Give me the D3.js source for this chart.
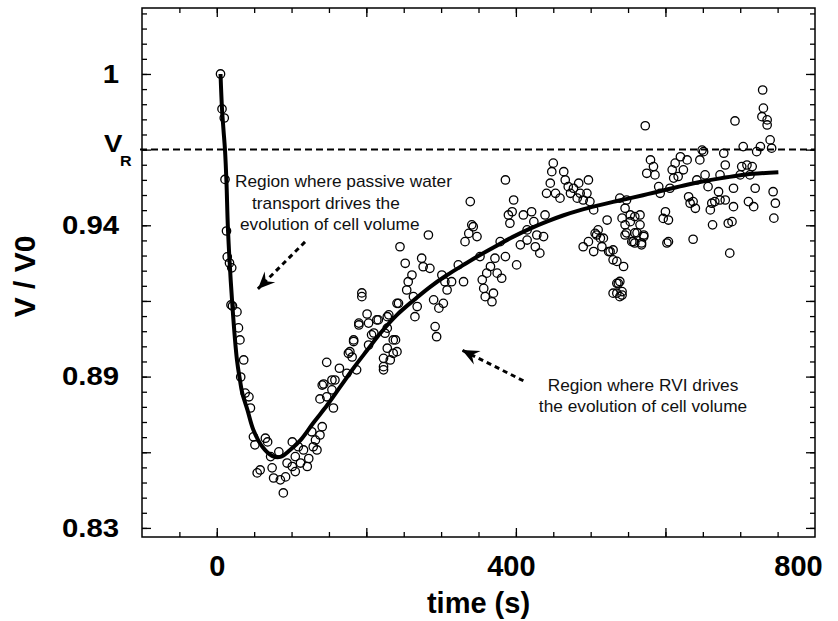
<!DOCTYPE html>
<html>
<head>
<meta charset="utf-8">
<script src="https://cdn.jsdelivr.net/npm/d3@7"></script>
<style>
body { margin: 0; background: #fff; }
svg { display: block; font-family: "Liberation Sans", Arial, sans-serif; }
</style>
</head>
<body>
<svg id="chart"></svg>
<script>
// measured points: [time (s), V/V0]
var obsPoints = [
  [5,1.0000],[7,0.9869],[10,0.9835],[11,0.9605],[13,0.9412],[14,0.9315],[17,0.9292],[20,0.9274],[19,0.9135],[21,0.9131],
  [27,0.9109],[29,0.9049],[31,0.9004],[36,0.8929],[32,0.8865],[38,0.8805],[43,0.8791],[45,0.8749],[49,0.8641],[51,0.8611],
  [65,0.8636],[68,0.8622],[58,0.8517],[54,0.8506],[72,0.8567],[83,0.8585],[74,0.8525],[76,0.8487],[85,0.8480],[94,0.8543],
  [92,0.8491],[89,0.8431],[101,0.8530],[105,0.8567],[105,0.8511],[112,0.8543],[121,0.8530],[116,0.8592],[123,0.8560],[129,0.8604],
  [132,0.8629],[134,0.8592],[141,0.8679],[127,0.8660],[138,0.8648],[109,0.8604],[101,0.8622],[147,0.8920],[143,0.8839],[138,0.8783],
  [154,0.8817],[156,0.8749],[158,0.8854],[164,0.8898],[174,0.8879],[176,0.8954],[183,0.9004],[181,0.8940],[190,0.9060],[194,0.9166],
  [194,0.9180],[201,0.9101],[207,0.9023],[214,0.9079],[190,0.9067],[216,0.9079],[230,0.9098],[241,0.9141],[203,0.9067],[210,0.9030],
  [228,0.9048],[236,0.9004],[183,0.8998],[178,0.8960],[187,0.8892],[154,0.8854],[141,0.8835],[147,0.8791],[223,0.8935],[232,0.8929],
  [241,0.8960],[223,0.8892],[228,0.8973],[203,0.8985],[223,0.8904],[236,0.8954],[225,0.9029],[239,0.9004],[228,0.9091],[243,0.9141],
  [245,0.9353],[252,0.9291],[256,0.9222],[261,0.9247],[254,0.9191],[263,0.9166],[268,0.9129],[265,0.9091],[274,0.9310],[276,0.9278],
  [285,0.9272],[283,0.9397],[290,0.9154],[297,0.9123],[303,0.9141],[308,0.9191],[305,0.9222],[301,0.9247],[292,0.9054],[294,0.9016],
  [314,0.9222],[323,0.9285],[330,0.9222],[332,0.9372],[337,0.9403],[341,0.9435],[348,0.9391],[339,0.9522],[343,0.9428],[352,0.9316],
  [355,0.9229],[357,0.9197],[361,0.9254],[366,0.9279],[372,0.9310],[359,0.9166],[368,0.9147],[370,0.9179],[375,0.9254],[381,0.9235],
  [386,0.9316],[379,0.9372],[386,0.9603],[392,0.9441],[395,0.9484],[397,0.9528],[390,0.9472],[401,0.9285],[406,0.9360],[410,0.9472],
  [415,0.9378],[421,0.9484],[424,0.9447],[415,0.9416],[428,0.9397],[426,0.9353],[432,0.9329],[437,0.9391],[439,0.9472],[441,0.9553],
  [446,0.9591],[448,0.9634],[450,0.9666],[453,0.9553],[459,0.9535],[464,0.9634],[466,0.9603],[470,0.9578],[473,0.9553],[477,0.9572],
  [482,0.9535],[486,0.9553],[484,0.9591],[490,0.9528],[495,0.9553],[497,0.9603],[499,0.9522],[504,0.9491],[490,0.9353],[497,0.9372],
  [504,0.9335],[506,0.9403],[510,0.9416],[513,0.9385],[515,0.9353],[522,0.9453],[526,0.9335],[530,0.9304],[535,0.9216],[535,0.9179],
  [539,0.9166],[544,0.9279],[542,0.9460],[546,0.9397],[548,0.9528],[508,0.9397],[517,0.9385],[524,0.9335],[530,0.9341],[535,0.9298],
  [537,0.9216],[530,0.9179],[542,0.9185],[548,0.9405],[546,0.9435],[562,0.9405],[555,0.9372],[568,0.9367],[566,0.9435],[571,0.9391],
  [559,0.9367],[602,0.9367],[553,0.9447],[573,0.9806],[580,0.9678],[575,0.9628],[586,0.9622],[584,0.9653],[591,0.9578],[593,0.9553],
  [609,0.9641],[613,0.9666],[620,0.9690],[629,0.9678],[624,0.9641],[617,0.9616],[611,0.9610],[606,0.9572],[642,0.9603],[646,0.9678],
  [651,0.9709],[653,0.9622],[657,0.9578],[631,0.9540],[633,0.9516],[640,0.9497],[637,0.9522],[600,0.9484],[597,0.9459],[604,0.9453],
  [604,0.9372],[637,0.9381],[539,0.9535],[546,0.9497],[553,0.9472],[559,0.9466],[566,0.9472],[559,0.9405],[571,0.9397],[557,0.9372],
  [568,0.9360],[539,0.9223],[542,0.9172],[662,0.9516],[666,0.9522],[673,0.9528],[680,0.9528],[660,0.9491],[671,0.9559],[663,0.9435],
  [684,0.9441],[689,0.9447],[691,0.9503],[686,0.9329],[673,0.9622],[680,0.9659],[678,0.9703],[691,0.9572],[693,0.9824],[702,0.9653],
  [700,0.9622],[709,0.9659],[716,0.9653],[713,0.9622],[711,0.9522],[718,0.9503],[720,0.9572],[722,0.9709],[704,0.9728],[727,0.9728],
  [729,0.9840],[736,0.9828],[731,0.9872],[730,0.9940],[736,0.9809],[740,0.9753],[742,0.9722],[649,0.9715],[744,0.9559],[747,0.9516],
  [745,0.9460]
];

// fitted model curve
var fitTime = [5, 7, 9, 11, 13, 15, 21, 27, 31, 34, 41, 49, 61, 74, 85, 98, 112, 129, 148, 165, 183, 201, 219, 241, 263,
  285, 308, 330, 352, 375, 396, 419, 442, 463, 486, 509, 530, 553, 570, 584, 606, 629, 651, 673, 696, 717, 751];
var fitVol = [1.0000, 0.9869, 0.9790, 0.9715, 0.9592, 0.9416, 0.9128, 0.8929, 0.8854, 0.8806, 0.8742, 0.8667, 0.8604, 0.8570, 0.8566,
  0.8592, 0.8629, 0.8693, 0.8761, 0.8828, 0.8899, 0.8965, 0.9030, 0.9098, 0.9152, 0.9202, 0.9247, 0.9285, 0.9322, 0.9358,
  0.9390, 0.9421, 0.9448, 0.9470, 0.9490, 0.9507, 0.9521, 0.9535, 0.9546, 0.9555, 0.9570, 0.9585, 0.9598, 0.9609, 0.9619, 0.9626, 0.9632];

var xLabelTicks = [0, 400, 800];
var xLabelShift = [0, -5, -17];
var xMajorTicks = [0, 200, 400, 600];
var yLabelTicks = [0.83, 0.8867, 0.9433, 1.0];
var yLabels = ["0.83", "0.89", "0.94", "1"];
var vR = 0.9717;

// annotation arrows in data units: [from, to]
var arrowPassive = [[118, 0.9371], [55, 0.9195]];
var arrowRVI = [[410, 0.8851], [328, 0.8966]];

var svgWidth = 838, svgHeight = 621;
var svg = d3.select("#chart").attr("width", svgWidth).attr("height", svgHeight);

var xScale = d3.scaleLinear().domain([-100, 800]).range([142, 815]);
var yScale = d3.scaleLinear().domain([0.8266, 1.0247]).range([537, 8]);

var x0 = xScale.range()[0], x1 = xScale.range()[1];
var y0 = yScale.range()[0], y1 = yScale.range()[1];

var xMinor = d3.range(-50, 800, 50);
var yStep = 0.17 / 30;
var yMinor = d3.range(0, 35).map(function(i) { return 0.83 + i * yStep; })
  .filter(function(v) { return v < 1.0247; });
var yMajor = d3.range(0, 8).map(function(i) { return 0.83 + i * yStep * 5; })
  .filter(function(v) { return v < 1.0247; });

function tickAxis(axis, tr) {
  var g = svg.append("g").attr("transform", tr).call(axis);
  g.select(".domain").remove();
  g.selectAll("line").attr("stroke", "#000").attr("stroke-width", 1.3);
  return g;
}

// inward ticks on all four sides
tickAxis(d3.axisBottom(xScale).tickValues(xMinor).tickSize(-5).tickFormat(""), "translate(0," + y0 + ")");
tickAxis(d3.axisBottom(xScale).tickValues(xMajorTicks).tickSize(-9).tickFormat(""), "translate(0," + y0 + ")");
tickAxis(d3.axisTop(xScale).tickValues(xMinor).tickSize(-5).tickFormat(""), "translate(0," + y1 + ")");
tickAxis(d3.axisTop(xScale).tickValues(xMajorTicks).tickSize(-9).tickFormat(""), "translate(0," + y1 + ")");
tickAxis(d3.axisLeft(yScale).tickValues(yMinor).tickSize(-5).tickFormat(""), "translate(" + x0 + ",0)");
tickAxis(d3.axisLeft(yScale).tickValues(yMajor).tickSize(-9).tickFormat(""), "translate(" + x0 + ",0)");
tickAxis(d3.axisRight(yScale).tickValues(yMinor).tickSize(-5).tickFormat(""), "translate(" + x1 + ",0)");
tickAxis(d3.axisRight(yScale).tickValues(yMajor).tickSize(-9).tickFormat(""), "translate(" + x1 + ",0)");

// frame
svg.append("rect")
  .attr("x", x0).attr("y", y1)
  .attr("width", x1 - x0).attr("height", y0 - y1)
  .attr("fill", "none").attr("stroke", "#000").attr("stroke-width", 1.5);

// tick labels
var xl = svg.append("g").attr("transform", "translate(0," + y0 + ")")
  .call(d3.axisBottom(xScale).tickValues(xLabelTicks).tickSize(0).tickPadding(18).tickFormat(d3.format("d")));
xl.select(".domain").remove();
xl.selectAll("text").attr("font-family", "Liberation Sans, Arial, sans-serif")
  .attr("font-size", 29).attr("font-weight", "bold").attr("fill", "#000")
  .attr("dx", function(d, i) { return xLabelShift[i]; });

var yl = svg.append("g").attr("transform", "translate(" + x0 + ",0)")
  .call(d3.axisLeft(yScale).tickValues(yLabelTicks).tickSize(0).tickPadding(20)
    .tickFormat(function(d, i) { return yLabels[i]; }));
yl.select(".domain").remove();
yl.selectAll("text").attr("font-family", "Liberation Sans, Arial, sans-serif")
  .attr("font-size", 25.5).attr("font-weight", "bold").attr("fill", "#000")
  .attr("transform", "scale(1.15,1)");

// V_R reference line
svg.append("line")
  .attr("x1", x0 - 2).attr("x2", x1)
  .attr("y1", yScale(vR)).attr("y2", yScale(vR))
  .attr("stroke", "#000").attr("stroke-width", 2).attr("stroke-dasharray", "7,4");

var vrLabel = svg.append("text").attr("font-weight", "bold")
  .attr("transform", "translate(104," + (yScale(vR) + 2) + ") scale(1.15,1)");
vrLabel.append("tspan").attr("font-size", 24).text("V");
vrLabel.append("tspan").attr("font-size", 14).attr("dy", 14).attr("dx", -2).text("R");

// axis titles
svg.append("text")
  .attr("x", (x0 + x1) / 2).attr("y", 613)
  .attr("text-anchor", "middle").attr("font-size", 29).attr("font-weight", "bold")
  .text("time (s)");

svg.append("text")
  .attr("transform", "translate(35," + ((y0 + y1) / 2 + 4) + ") rotate(-90)")
  .attr("text-anchor", "middle").attr("font-size", 30).attr("font-weight", "bold")
  .text("V / V0");

// observations
svg.append("g").selectAll("circle")
  .data(obsPoints)
  .join("circle")
  .attr("cx", function(d) { return xScale(d[0]); })
  .attr("cy", function(d) { return yScale(d[1]); })
  .attr("r", 4.2)
  .attr("fill", "none")
  .attr("stroke", "#000")
  .attr("stroke-width", 1.3);

// fitted curve
var fitData = fitTime.map(function(t, i) { return [t, fitVol[i]]; });
var line = d3.line()
  .x(function(d) { return xScale(d[0]); })
  .y(function(d) { return yScale(d[1]); })
  .curve(d3.curveCatmullRom.alpha(0.5));
svg.append("path")
  .datum(fitData)
  .attr("d", line)
  .attr("fill", "none")
  .attr("stroke", "#000")
  .attr("stroke-width", 4)
  .attr("stroke-linejoin", "round");

// arrows
svg.append("defs").append("marker")
  .attr("id", "head")
  .attr("markerUnits", "userSpaceOnUse")
  .attr("markerWidth", 22).attr("markerHeight", 18)
  .attr("viewBox", "-19 -9 22 18")
  .attr("refX", 0).attr("refY", 0)
  .attr("orient", "auto")
  .append("path")
  .attr("d", "M0,0 L-17,-7.5 L-11,0 L-17,7.5 Z")
  .attr("fill", "#000");

[arrowPassive, arrowRVI].forEach(function(a) {
  svg.append("line")
    .attr("x1", xScale(a[0][0])).attr("y1", yScale(a[0][1]))
    .attr("x2", xScale(a[1][0])).attr("y2", yScale(a[1][1]))
    .attr("stroke", "#000").attr("stroke-width", 3)
    .attr("stroke-dasharray", "5,4")
    .attr("marker-end", "url(#head)");
});

// annotations
var note1 = [["Region where passive water", 235, 187], ["transport drives the", 252, 209], ["evolution of cell volume", 240, 230]];
note1.forEach(function(n) {
  svg.append("text")
    .attr("transform", "translate(" + n[1] + "," + n[2] + ") scale(1.08,1)")
    .attr("font-size", 16).attr("fill", "#111")
    .text(n[0]);
});
var note2 = [["Region where RVI drives", 391], ["the evolution of cell volume", 412]];
note2.forEach(function(n) {
  svg.append("text")
    .attr("transform", "translate(643," + n[1] + ") scale(1.08,1)")
    .attr("text-anchor", "middle")
    .attr("font-size", 16).attr("fill", "#111")
    .text(n[0]);
});
</script>
</body>
</html>
